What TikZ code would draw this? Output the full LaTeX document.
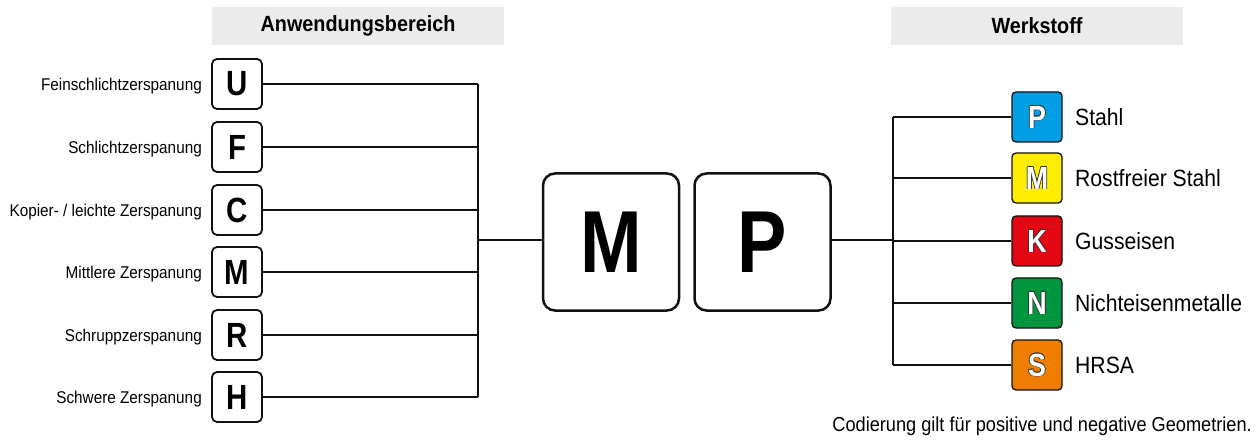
\documentclass[tikz,border=0pt]{standalone}
\usepackage{fontspec}
\setmainfont{Liberation Sans}[FakeStretch=0.9]
\newfontfamily\condb{Liberation Sans Bold}[FakeStretch=0.84]
\definecolor{hdr}{HTML}{EBEBEB}
\definecolor{ink}{HTML}{111111}
\definecolor{cP}{HTML}{009FE3}
\definecolor{cM}{HTML}{FFED00}
\definecolor{cK}{HTML}{E30613}
\definecolor{cN}{HTML}{009640}
\definecolor{cS}{HTML}{EF7D00}
\definecolor{outl}{HTML}{333333}
\tikzset{
  hdrbox/.style={fill=hdr, draw=none, minimum width=292pt, minimum height=38pt, inner sep=0pt,
    font=\bfseries\fontsize{22}{24}\selectfont},
  lbox/.style={draw=ink, line width=1.8pt, rounded corners=5pt, minimum width=50pt, minimum height=50pt,
    inner sep=0pt, font=\condb\fontsize{35}{38}\selectfont},
  bigbox/.style={draw=ink, line width=2.5pt, rounded corners=12pt, minimum width=136pt, minimum height=137pt,
    inner sep=0pt, font=\condb\fontsize{88}{92}\selectfont},
  cbox/.style={draw=ink, line width=1.3pt, rounded corners=4pt, minimum width=50pt, minimum height=50pt, inner sep=0pt},
  llabel/.style={anchor=base east, inner sep=0pt, font=\fontsize{17}{20}\selectfont},
  rlabel/.style={anchor=base west, inner sep=0pt, font=\fontsize{23.5}{26}\selectfont},
  conn/.style={draw=ink, line width=1.8pt},
  cletter/.style={inner sep=0pt, font=\condb\fontsize{32}{35}\selectfont}
}
\newcommand\outlet[2]{%
  \foreach \dx/\dy in {0.7/0,-0.7/0,0/0.7,0/-0.7,0.5/0.5,0.5/-0.5,-0.5/0.5,-0.5/-0.5}{%
    \node[cletter, text=outl] at ([shift={(\dx pt,\dy pt)}]#1) {#2};}
  \node[cletter, text=white] at (#1) {#2};}
\begin{document}
\begin{tikzpicture}[x=1pt, y=-1pt]
\useasboundingbox[fill=white] (0,0) rectangle (1255,446);
% headers
\node[hdrbox] (h1) at (358,26) {Anwendungsbereich};
\node[hdrbox] (h2) at (1037,26) {Werkstoff};
% left boxes
\node[lbox] (U) at (237,84) {U};
\node[lbox] (F) at (237,147) {F};
\node[lbox] (C) at (237,210) {C};
\node[lbox] (Mm) at (237,272) {M};
\node[lbox] (R) at (237,335) {R};
\node[lbox] (H) at (237,397) {H};
% left labels
\node[llabel] (lU) at (202,90.1) {Feinschlichtzerspanung};
\node[llabel] (lF) at (202,153.1) {Schlichtzerspanung};
\node[llabel] (lC) at (202,216.1) {Kopier- / leichte Zerspanung};
\node[llabel] (lM) at (202,278.1) {Mittlere Zerspanung};
\node[llabel] (lR) at (202,341.1) {Schruppzerspanung};
\node[llabel] (lH) at (202,403.1) {Schwere Zerspanung};
% big boxes
\node[bigbox] (BM) at (611,242) {M};
\node[bigbox] (BP) at (762.5,242) {P};
% bus coordinates
\coordinate (lbus) at (478,240);
\coordinate (rbus) at (893,240);
% right boxes
\node[cbox, fill=cP] (P) at (1037,117) {};
\node[cbox, fill=cM] (M) at (1037,178) {};
\node[cbox, fill=cK] (K) at (1037,241) {};
\node[cbox, fill=cN] (N) at (1037,303) {};
\node[cbox, fill=cS] (S) at (1037,365) {};
\outlet{P}{P}
\outlet{M}{M}
\outlet{K}{K}
\outlet{N}{N}
\outlet{S}{S}
% right labels
\node[rlabel] (tP) at (1075,125.4) {Stahl};
\node[rlabel] (tM) at (1075,186.4) {Rostfreier Stahl};
\node[rlabel] (tK) at (1075,249.4) {Gusseisen};
\node[rlabel] (tN) at (1075,311.4) {Nichteisenmetalle};
\node[rlabel] (tS) at (1075,373.4) {HRSA};
% connectors left
\foreach \b in {U,F,C,Mm,R,H}{\draw[conn] (\b.east) -- (\b.east -| lbus);}
\draw[conn] (lbus |- U.east) -- (lbus |- H.east);
\draw[conn] (lbus) -- (BM.west |- lbus);
% connectors right
\draw[conn] (BP.east |- rbus) -- (rbus);
\draw[conn] (rbus |- P.west) -- (rbus |- S.west);
\foreach \b in {P,M,K,N,S}{\draw[conn] (\b.west -| rbus) -- (\b.west);}
% note
\node[anchor=base east, inner sep=0pt, font=\fontsize{20.2}{23}\selectfont] (note) at (1252,431) {Codierung gilt für positive und negative Geometrien.};
\end{tikzpicture}
\end{document}
